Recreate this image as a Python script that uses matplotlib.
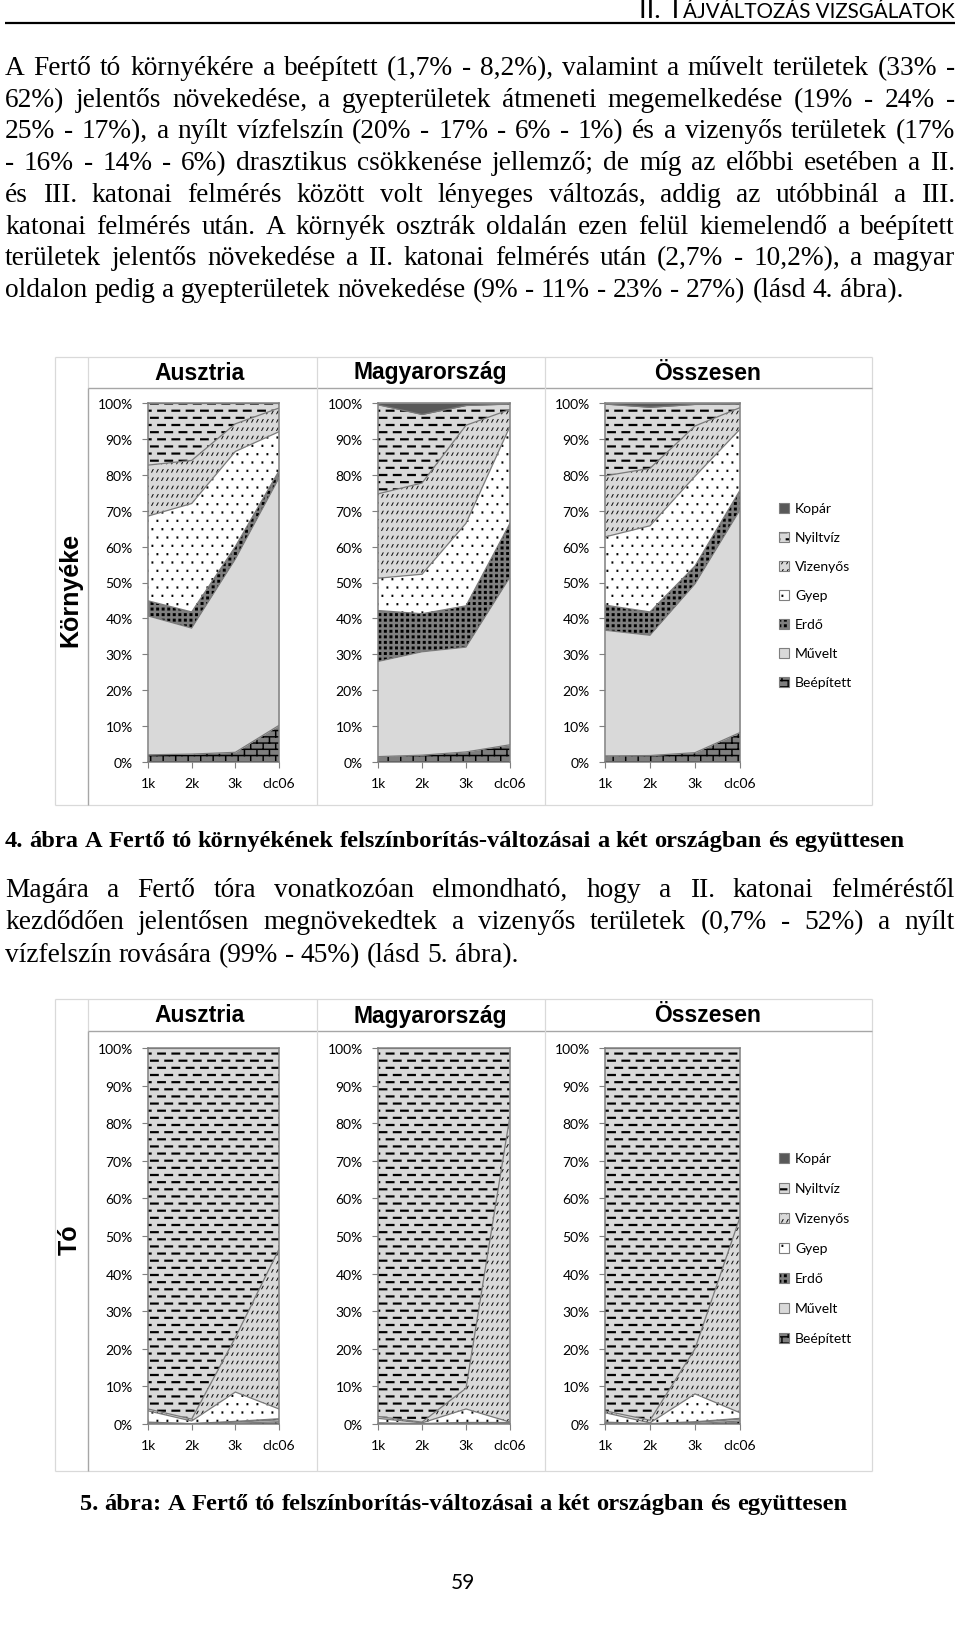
import numpy as np
import matplotlib
matplotlib.use('Agg')
import matplotlib.pyplot as plt
from matplotlib.path import Path
import matplotlib.hatch as mhatch
from matplotlib.font_manager import FontProperties
from matplotlib.patches import Rectangle
from matplotlib.lines import Line2D

# ---------------------------------------------------------------- data
categories = ['1k', '2k', '3k', 'clc06']
series = ['Beépített', 'Művelt', 'Erdő', 'Gyep', 'Vizenyős', 'Nyiltvíz', 'Kopár']
legend_order = ['Kopár', 'Nyiltvíz', 'Vizenyős', 'Gyep', 'Erdő', 'Művelt', 'Beépített']
panel_titles = ['Ausztria', 'Magyarország', 'Összesen']
row_labels = ['Környéke', 'Tó']
y_ticks = [0, 10, 20, 30, 40, 50, 60, 70, 80, 90, 100]
y_tick_labels = ['0%', '10%', '20%', '30%', '40%', '50%', '60%', '70%', '80%', '90%', '100%']

# Környéke - Ausztria
ka_beepitett = [2.0, 2.2, 2.7, 10.2]
ka_muvelt = [38.7, 35.1, 53.8, 68.9]
ka_erdo = [4.2, 4.5, 3.5, 2.0]
ka_gyep = [23.6, 30.2, 26.5, 10.9]
ka_vizenyos = [14.2, 12.0, 7.7, 6.6]
ka_nyiltviz = [17.3, 16.0, 5.8, 1.4]
ka_kopar = [0.0, 0.0, 0.0, 0.0]
# Környéke - Magyarország
km_beepitett = [1.5, 1.9, 2.8, 4.8]
km_muvelt = [26.5, 28.8, 29.2, 46.7]
km_erdo = [14.2, 10.6, 11.5, 15.0]
km_gyep = [9.0, 11.0, 23.0, 27.0]
km_vizenyos = [23.5, 25.4, 27.3, 4.7]
km_nyiltviz = [24.8, 19.1, 5.5, 1.5]
km_kopar = [0.5, 3.2, 0.7, 0.3]
# Környéke - Összesen
ko_beepitett = [1.7, 1.8, 2.6, 8.2]
ko_muvelt = [35.0, 33.5, 47.0, 62.0]
ko_erdo = [7.0, 6.5, 5.0, 5.5]
ko_gyep = [19.0, 24.0, 25.0, 17.0]
ko_vizenyos = [17.0, 16.0, 14.0, 6.0]
ko_nyiltviz = [20.0, 17.0, 6.0, 1.0]
ko_kopar = [0.3, 1.2, 0.4, 0.3]
# Tó - Ausztria
ta_beepitett = [0.0, 0.0, 0.2, 0.6]
ta_muvelt = [0.3, 0.1, 0.3, 0.5]
ta_erdo = [0.2, 0.0, 0.2, 0.3]
ta_gyep = [3.0, 0.7, 7.8, 2.6]
ta_vizenyos = [0.5, 0.5, 14.5, 42.5]
ta_nyiltviz = [96.0, 98.7, 77.0, 53.5]
ta_kopar = [0.0, 0.0, 0.0, 0.0]
# Tó - Magyarország
tm_beepitett = [0.0, 0.0, 0.1, 0.2]
tm_muvelt = [0.2, 0.1, 0.2, 0.1]
tm_erdo = [0.1, 0.0, 0.1, 0.1]
tm_gyep = [1.2, 0.2, 3.6, 0.1]
tm_vizenyos = [0.5, 0.2, 5.5, 81.5]
tm_nyiltviz = [98.0, 99.5, 90.5, 18.0]
tm_kopar = [0.0, 0.0, 0.0, 0.0]
# Tó - Összesen
to_beepitett = [0.0, 0.0, 0.1, 0.8]
to_muvelt = [0.3, 0.1, 0.3, 0.5]
to_erdo = [0.2, 0.0, 0.2, 0.2]
to_gyep = [2.5, 0.2, 7.4, 1.5]
to_vizenyos = [0.5, 0.7, 12.0, 52.0]
to_nyiltviz = [96.5, 99.0, 80.0, 45.0]
to_kopar = [0.0, 0.0, 0.0, 0.0]

para1 = [
    "A Fertő tó környékére a beépített (1,7% - 8,2%), valamint a művelt területek (33% -",
    "62%) jelentős növekedése, a gyepterületek átmeneti megemelkedése (19% - 24% -",
    "25% - 17%), a nyílt vízfelszín (20% - 17% - 6% - 1%) és a vizenyős területek (17%",
    "- 16% - 14% - 6%) drasztikus csökkenése jellemző; de míg az előbbi esetében a II.",
    "és III. katonai felmérés között volt lényeges változás, addig az utóbbinál a III.",
    "katonai felmérés után. A környék osztrák oldalán ezen felül kiemelendő a beépített",
    "területek jelentős növekedése a II. katonai felmérés után (2,7% - 10,2%), a magyar",
    "oldalon pedig a gyepterületek növekedése (9% - 11% - 23% - 27%) (lásd 4. ábra).",
]
caption4 = "4. ábra A Fertő tó környékének felszínborítás-változásai a két országban és együttesen"
para2 = [
    "Magára a Fertő tóra vonatkozóan elmondható, hogy a II. katonai felméréstől",
    "kezdődően jelentősen megnövekedtek a vizenyős területek (0,7% - 52%) a nyílt",
    "vízfelszín rovására (99% - 45%) (lásd 5. ábra).",
]
caption5 = "5. ábra: A Fertő tó felszínborítás-változásai a két országban és együttesen"
header_a = "II. T"
header_b = "ÁJVÁLTOZÁS VIZSGÁLATOK"
page_number = "59"

# ---------------------------------------------------------------- custom pattern fills
def _rect(x0, y0, x1, y1):
    return [(x0, y0), (x1, y0), (x1, y1), (x0, y1)]


def _dashes():
    polys = []
    nrows, nd = 14, 7
    rh, per = 100 / nrows, 100 / nd
    L, T = 8.8, 2.1
    for r in range(nrows):
        yc = (r + 0.5) * rh
        off = per / 2 if r % 2 else 0.0
        for k in range(-1, nd + 1):
            a = off + k * per
            b = a + L
            a2, b2 = max(a, 0.0), min(b, 100.0)
            if b2 - a2 > 0.05:
                polys.append(_rect(a2, yc - T / 2, b2, yc + T / 2))
    return polys


def _slashes():
    polys = []
    nrows, nk = 12, 20
    rh, per = 100 / nrows, 100 / nk
    h, dx, w = 3.4, 1.8, 1.0
    for r in range(nrows):
        yc = (r + 0.5) * rh
        for k in range(nk):
            x = k * per + 1.0
            y = yc - h / 2
            polys.append([(x, y), (x + w, y), (x + w + dx, y + h), (x + dx, y + h)])
    return polys


def _dots():
    polys = []
    nrows, nk = 12, 10
    rh, per = 100 / nrows, 100 / nk
    for r in range(nrows):
        yc = (r + 0.5) * rh
        off = per / 2 if r % 2 else 0.0
        for k in range(nk):
            x = off + k * per + 1.5
            polys.append(_rect(x, yc - 1.1, x + 1.8, yc + 1.1))
    return polys


def _squares():
    polys = []
    n = 18
    per = 100 / n
    s = 2.9
    for i in range(n):
        for j in range(n):
            x, y = i * per + 0.6, j * per + 0.6
            polys.append(_rect(x, y, x + s, y + s))
    return polys


def _bricks():
    polys = []
    nrows, nb = 16, 8
    rh, per = 100 / nrows, 100 / nb
    t = 1.4
    for r in range(nrows):
        y0 = r * rh
        polys.append(_rect(0, y0, 100, y0 + t))
        off = per / 2 if r % 2 else 0.0
        for k in range(nb):
            x = off + k * per
            polys.append(_rect(x, y0, x + t, y0 + rh))
    return polys


class _PolyHatch:
    char = ''
    builder = None

    def __init__(self, hatch, density):
        self.polys = type(self).builder() if self.char in hatch else []
        self.num_vertices = 5 * len(self.polys)

    def set_vertices_and_codes(self, vertices, codes):
        for i, poly in enumerate(self.polys):
            v = np.asarray(poly, float) / 100.0
            vertices[5 * i:5 * i + 4] = v
            vertices[5 * i + 4] = v[0]
            codes[5 * i] = Path.MOVETO
            codes[5 * i + 1:5 * i + 4] = Path.LINETO
            codes[5 * i + 4] = Path.CLOSEPOLY


class DashHatch(_PolyHatch):
    char = '-'
    builder = staticmethod(_dashes)


class SlashHatch(_PolyHatch):
    char = '/'
    builder = staticmethod(_slashes)


class DotHatch(_PolyHatch):
    char = '.'
    builder = staticmethod(_dots)


class SquareHatch(_PolyHatch):
    char = 'x'
    builder = staticmethod(_squares)


class BrickHatch(_PolyHatch):
    char = '+'
    builder = staticmethod(_bricks)


mhatch._hatch_types[:] = [DashHatch, SlashHatch, DotHatch, SquareHatch, BrickHatch]
plt.rcParams['hatch.linewidth'] = 0.05
plt.rcParams['font.family'] = ['Lato', 'DejaVu Sans']

# facecolor, hatch, hatch colour
STYLES = {
    'Beépített': ('#7f7f7f', '+', '#000000'),
    'Művelt': ('#d9d9d9', None, '#d9d9d9'),
    'Erdő': ('#7f7f7f', 'x', '#000000'),
    'Gyep': ('#ffffff', '.', '#000000'),
    'Vizenyős': ('#d9d9d9', '/', '#000000'),
    'Nyiltvíz': ('#d9d9d9', '-', '#000000'),
    'Kopár': ('#595959', None, '#595959'),
}

# ---------------------------------------------------------------- figure helpers
W, H, DPI = 960, 1631, 100
fig = plt.figure(figsize=(W / DPI, H / DPI), dpi=DPI)
fig.patch.set_facecolor('white')
renderer = fig.canvas.get_renderer()


def fx(x):
    return x / W


def fy(y):
    return 1 - y / H


def text_px(x, y, s, **kw):
    return fig.text(fx(x), fy(y), s, **kw)


def width_px(s, fp):
    t = fig.text(0, 0, s, fontproperties=fp)
    w = t.get_window_extent(renderer).width
    t.remove()
    return w


def line_px(x0, y0, x1, y1, color, lw):
    fig.add_artist(Line2D([fx(x0), fx(x1)], [fy(y0), fy(y1)], transform=fig.transFigure,
                          color=color, linewidth=lw, solid_capstyle='butt'))


def fit_size(s, target, family, weight='normal'):
    fp = FontProperties(family=family, weight=weight, size=10)
    return 10 * target / width_px(s, fp)


def write_line(s, y, fp, x0=5, x1=955, justify=True):
    words = s.split(' ')
    widths = [width_px(w, fp) for w in words]
    if justify and len(words) > 1:
        gap = (x1 - x0 - sum(widths)) / (len(words) - 1)
    else:
        gap = width_px('a a', fp) - width_px('aa', fp)
    x = x0
    for w, wd in zip(words, widths):
        text_px(x, y, w, fontproperties=fp, ha='left', va='baseline', color='black')
        x += wd + gap


# ---------------------------------------------------------------- header
fp_tmp_b = FontProperties(family='Lato', size=10)
fp_tmp_a = FontProperties(family='Lato', size=13)
tot = width_px(header_b, fp_tmp_b) + width_px(header_a, fp_tmp_a)
scale = 315.0 / tot
fp_hb = FontProperties(family='Lato', size=10 * scale)
fp_ha = FontProperties(family='Lato', size=13 * scale)
wb = width_px(header_b, fp_hb)
text_px(955, 18, header_b, fontproperties=fp_hb, ha='right', va='baseline')
text_px(955 - wb, 18, header_a, fontproperties=fp_ha, ha='right', va='baseline')
line_px(5, 23.5, 955, 23.5, 'black', 1.6)

# ---------------------------------------------------------------- body text
body_size = 19.7
fp_body = FontProperties(family='Liberation Serif', size=body_size)

for i, s in enumerate(para1):
    write_line(s, 75 + i * 31.7, fp_body, justify=(i < len(para1) - 1))

write_line(caption4, 847, FontProperties(family='Liberation Serif', weight='bold',
                                          size=fit_size(caption4, 900, 'Liberation Serif', 'bold')),
           justify=False)
for i, s in enumerate(para2):
    write_line(s, 897 + i * 32.5, fp_body, justify=(i < len(para2) - 1))
write_line(caption5, 1510, FontProperties(family='Liberation Serif', weight='bold',
                                           size=fit_size(caption5, 767, 'Liberation Serif', 'bold')),
           x0=80, justify=False)
text_px(463, 1583, page_number, fontproperties=FontProperties(family='Lato', size=15),
        ha='center', va='center')

# ---------------------------------------------------------------- charts
col_x = [(148, 279), (378, 510), (605, 740)]
title_x = [200, 430, 708]
rows = [
    dict(top=358, bottom=806, tline=389, ptop=404, pbot=763, title_y=373, label_y=590,
         leg_y0=509, leg_dy=29,
         data=[[ka_beepitett, ka_muvelt, ka_erdo, ka_gyep, ka_vizenyos, ka_nyiltviz, ka_kopar],
               [km_beepitett, km_muvelt, km_erdo, km_gyep, km_vizenyos, km_nyiltviz, km_kopar],
               [ko_beepitett, ko_muvelt, ko_erdo, ko_gyep, ko_vizenyos, ko_nyiltviz, ko_kopar]]),
    dict(top=1000, bottom=1472, tline=1032, ptop=1049, pbot=1425, title_y=1016, label_y=1240,
         leg_y0=1159, leg_dy=30,
         data=[[ta_beepitett, ta_muvelt, ta_erdo, ta_gyep, ta_vizenyos, ta_nyiltviz, ta_kopar],
               [tm_beepitett, tm_muvelt, tm_erdo, tm_gyep, tm_vizenyos, tm_nyiltviz, tm_kopar],
               [to_beepitett, to_muvelt, to_erdo, to_gyep, to_vizenyos, to_nyiltviz, to_kopar]]),
]

LEFT, LABCOL, RIGHT = 55, 88, 872
SEPS = [317, 545]
LIGHT, MID = '#d9d9d9', '#a6a6a6'


def draw_chart(ax, data):
    x = np.arange(len(categories))
    base = np.zeros(len(categories))
    tops = []
    for name, vals in zip(series, data):
        top = base + np.asarray(vals, float)
        fc, hatch, hc = STYLES[name]
        ax.fill_between(x, base, top, facecolor=fc, edgecolor=hc, hatch=hatch,
                        linewidth=0, zorder=2)
        tops.append(top)
        base = top
    for top in tops[:-1]:
        ax.plot(x, top, color='#7a7a7a', lw=0.9, zorder=3, solid_joinstyle='miter')
    ax.set_xlim(0, len(categories) - 1)
    ax.set_ylim(0, 100)
    ax.set_yticks(y_ticks)
    ax.set_yticklabels(y_tick_labels)
    ax.set_xticks(x)
    ax.set_xticklabels(categories)
    ax.set_facecolor('white')
    for sp in ax.spines.values():
        sp.set_color('#7f7f7f')
        sp.set_linewidth(1.1)
        sp.set_zorder(4)
    ax.tick_params(axis='both', direction='out', length=4, width=0.8, color='#7f7f7f',
                   labelsize=10, labelcolor='black')
    ax.tick_params(axis='y', pad=7)
    ax.tick_params(axis='x', pad=7)


fp_title = FontProperties(family='Liberation Sans', weight='bold', size=16.5)
fp_row = FontProperties(family='Liberation Sans', weight='bold', size=18)
fp_leg = FontProperties(family='Lato', size=10)

for ri, row in enumerate(rows):
    top, bot, tl = row['top'], row['bottom'], row['tline']
    # table frame
    line_px(LEFT, top, RIGHT, top, LIGHT, 0.9)
    line_px(LEFT, bot, RIGHT, bot, LIGHT, 0.9)
    line_px(LEFT, top, LEFT, bot, LIGHT, 0.9)
    line_px(RIGHT, top, RIGHT, bot, LIGHT, 0.9)
    line_px(LABCOL, top, LABCOL, tl, LIGHT, 0.9)
    line_px(LABCOL, tl, LABCOL, bot, MID, 1.0)
    line_px(LABCOL, tl, RIGHT, tl, MID, 1.0)
    for sx in SEPS:
        line_px(sx, top, sx, bot, LIGHT, 0.9)
    text_px(70, row['label_y'], row_labels[ri], fontproperties=fp_row, rotation=90,
            ha='center', va='center')
    for ci, (x0, x1) in enumerate(col_x):
        text_px(title_x[ci], row['title_y'], panel_titles[ci], fontproperties=fp_title,
                ha='center', va='center')
        ax = fig.add_axes([fx(x0), fy(row['pbot']), (x1 - x0) / W, (row['pbot'] - row['ptop']) / H])
        draw_chart(ax, row['data'][ci])
    # legend
    for li, name in enumerate(legend_order):
        yc = row['leg_y0'] + li * row['leg_dy']
        fc, hatch, hc = STYLES[name]
        fig.add_artist(Rectangle((fx(779), fy(yc + 5)), 10 / W, 10 / H, transform=fig.transFigure,
                                 facecolor=fc, edgecolor=hc, hatch=hatch, linewidth=0))
        fig.add_artist(Rectangle((fx(779), fy(yc + 5)), 10 / W, 10 / H, transform=fig.transFigure,
                                 facecolor='none', edgecolor='#7f7f7f', linewidth=0.8))
        text_px(795, yc, name, fontproperties=fp_leg, ha='left', va='center')

fig.savefig('out.png', dpi=DPI, facecolor='white')
